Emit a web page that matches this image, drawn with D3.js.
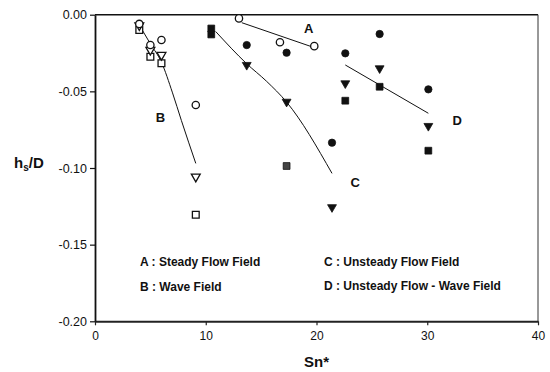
<!DOCTYPE html>
<html>
<head>
<meta charset="utf-8">
<script src="https://cdn.jsdelivr.net/npm/d3@7"></script>
<style>
  html, body { margin: 0; padding: 0; background: #fff; }
  svg { display: block; font-family: "Liberation Sans", Arial, sans-serif; }
</style>
</head>
<body>
<svg id="chart" width="550" height="372"></svg>
<script>
// ---- data ----
const xTicks = [0, 10, 20, 30, 40];
const yTicks = [0, -0.05, -0.10, -0.15, -0.20];
const yTickLabels = ["0.00", "-0.05", "-0.10", "-0.15", "-0.20"];

// A : Steady Flow Field (open circles)
const aCircleX = [13.0, 16.7, 19.8];
const aCircleY = [-0.0024, -0.018, -0.0205];
const aFitX = [13.25, 19.57];
const aFitY = [-0.0052, -0.0209];

// B : Wave Field (open markers)
const bCircleX = [4.0, 5.0, 6.0, 9.1];
const bCircleY = [-0.006, -0.0198, -0.0165, -0.0589];
const bTriX = [4.0, 5.0, 6.0, 9.1];
const bTriY = [-0.007, -0.023, -0.0263, -0.1057];
const bSquareX = [4.0, 5.0, 6.0, 9.1];
const bSquareY = [-0.010, -0.0274, -0.0317, -0.1305];
const bFitX = [4.1, 5.0, 6.0, 7.0, 7.8, 9.1];
const bFitY = [-0.008, -0.019, -0.031, -0.051, -0.069, -0.097];

// C : Unsteady Flow Field (filled markers)
const cCircleX = [13.7, 17.3, 21.4];
const cCircleY = [-0.0198, -0.0248, -0.0835];
const cTriX = [13.7, 17.3, 21.4];
const cTriY = [-0.0328, -0.0568, -0.1256];
const cSquareX = [10.5, 10.5, 17.3];
const cSquareY = [-0.009, -0.0129, -0.0987];
const cFitX = [10.9, 13.7, 15.5, 17.3, 21.4];
const cFitY = [-0.011, -0.032, -0.0435, -0.057, -0.1035];

// D : Unsteady Flow - Wave Field (filled markers)
const dCircleX = [22.6, 25.7, 30.1];
const dCircleY = [-0.0252, -0.0126, -0.0487];
const dTriX = [22.6, 25.7, 30.1];
const dTriY = [-0.0448, -0.035, -0.0726];
const dSquareX = [22.6, 25.7, 30.1];
const dSquareY = [-0.0561, -0.047, -0.0887];
const dFitX = [22.6, 30.1];
const dFitY = [-0.0328, -0.0643];

const curveLabels = ["A", "B", "C", "D"];
const curveLabelX = [19.3, 5.9, 23.5, 32.7];
const curveLabelY = [-0.0122, -0.0703, -0.1123, -0.0720];

const legendText = ["A : Steady Flow Field", "B : Wave Field", "C : Unsteady Flow Field", "D : Unsteady Flow - Wave Field"];

// ---- layout ----
const svg = d3.select("#chart");
const m = { left: 95, right: 538, top: 14.7, bottom: 321.3 };
const x = d3.scaleLinear().domain([0, 40]).range([m.left, m.right]);
const y = d3.scaleLinear().domain([-0.20, 0]).range([m.bottom, m.top]);

svg.append("rect").attr("width", 550).attr("height", 372).attr("fill", "#fff");

// frame top / right
svg.append("line").attr("x1", x(0)).attr("x2", x(40)).attr("y1", y(0)).attr("y2", y(0))
  .attr("stroke", "#111").attr("stroke-width", 1.5);
svg.append("line").attr("x1", x(40)).attr("x2", x(40)).attr("y1", y(0)).attr("y2", y(-0.2))
  .attr("stroke", "#333").attr("stroke-width", 1);

// axes
const xAxis = d3.axisBottom(x).tickValues(xTicks).tickSize(4).tickSizeOuter(0).tickPadding(6)
  .tickFormat(d3.format("d"));
const gx = svg.append("g").attr("transform", `translate(0,${m.bottom})`).call(xAxis);
gx.select(".domain").attr("stroke", "#222").attr("stroke-width", 2);
gx.selectAll(".tick line").attr("stroke", "#222").attr("stroke-width", 1.2);
gx.selectAll(".tick text").attr("font-size", 12).attr("fill", "#111")
  .attr("font-family", "'Liberation Sans', Arial, sans-serif");

const yAxis = d3.axisLeft(y).tickValues(yTicks).tickSize(5).tickSizeOuter(0).tickPadding(3)
  .tickFormat((d, i) => yTickLabels[i]);
const gy = svg.append("g").attr("transform", `translate(${m.left},0)`).call(yAxis);
gy.select(".domain").attr("stroke", "#111").attr("stroke-width", 1.8);
gy.selectAll(".tick line").attr("stroke", "#111").attr("stroke-width", 1.2);
gy.selectAll(".tick text").attr("font-size", 12.5).attr("fill", "#111")
  .attr("font-family", "'Liberation Sans', Arial, sans-serif");

// axis titles
const yt = svg.append("text").attr("x", 14).attr("y", 168).attr("font-size", 15)
  .attr("font-weight", "bold").attr("fill", "#111");
yt.append("tspan").text("h");
yt.append("tspan").attr("font-size", 10).attr("dy", 3).text("s");
yt.append("tspan").attr("dy", -3).text("/D");

svg.append("text").attr("x", x(20)).attr("y", 367).attr("text-anchor", "middle")
  .attr("font-size", 15).attr("font-weight", "bold").attr("fill", "#111").text("Sn*");

// fit lines
const line = d3.line().x(d => x(d[0])).y(d => y(d[1])).curve(d3.curveMonotoneX);
const fits = [[aFitX, aFitY], [bFitX, bFitY], [cFitX, cFitY], [dFitX, dFitY]];
fits.forEach(([fx, fy]) => {
  svg.append("path").datum(fx.map((v, i) => [v, fy[i]])).attr("d", line)
    .attr("fill", "none").attr("stroke", "#111").attr("stroke-width", 1);
});

// markers
function drawMarkers(xs, ys, type, filled, fillCol) {
  const sym = d3.symbol().type(type === "circle" ? d3.symbolCircle :
    type === "square" ? d3.symbolSquare : d3.symbolTriangle)
    .size(type === "circle" ? 42 : type === "square" ? 46 : 34);
  xs.forEach((v, i) => {
    svg.append("path").attr("d", sym())
      .attr("transform", `translate(${x(v)},${y(ys[i])})` + (type === "tri" ? " rotate(180)" : ""))
      .attr("fill", filled ? (fillCol || "#111") : "#fff")
      .attr("stroke", "#111").attr("stroke-width", filled ? 0.8 : 1.3);
  });
}
drawMarkers(aCircleX, aCircleY, "circle", false);
drawMarkers(bSquareX, bSquareY, "square", false);
drawMarkers(bTriX, bTriY, "tri", false);
drawMarkers(bCircleX, bCircleY, "circle", false);
drawMarkers(cSquareX.slice(0, 2), cSquareY.slice(0, 2), "square", true);
drawMarkers(cSquareX.slice(2), cSquareY.slice(2), "square", true, "#444");
drawMarkers(cTriX, cTriY, "tri", true);
drawMarkers(cCircleX, cCircleY, "circle", true);
drawMarkers(dSquareX, dSquareY, "square", true);
drawMarkers(dTriX, dTriY, "tri", true);
drawMarkers(dCircleX, dCircleY, "circle", true);

// curve letters
curveLabels.forEach((t, i) => {
  svg.append("text").attr("x", x(curveLabelX[i])).attr("y", y(curveLabelY[i]))
    .attr("text-anchor", "middle").attr("font-size", 13).attr("font-weight", "bold")
    .attr("fill", "#111").text(t);
});

// legend text
const legX = [140, 140, 324, 324];
const legY = [266, 291, 266, 290];
legendText.forEach((t, i) => {
  svg.append("text").attr("x", legX[i]).attr("y", legY[i]).attr("font-size", 12)
    .attr("font-weight", "bold").attr("fill", "#111").text(t);
});
</script>
</body>
</html>
